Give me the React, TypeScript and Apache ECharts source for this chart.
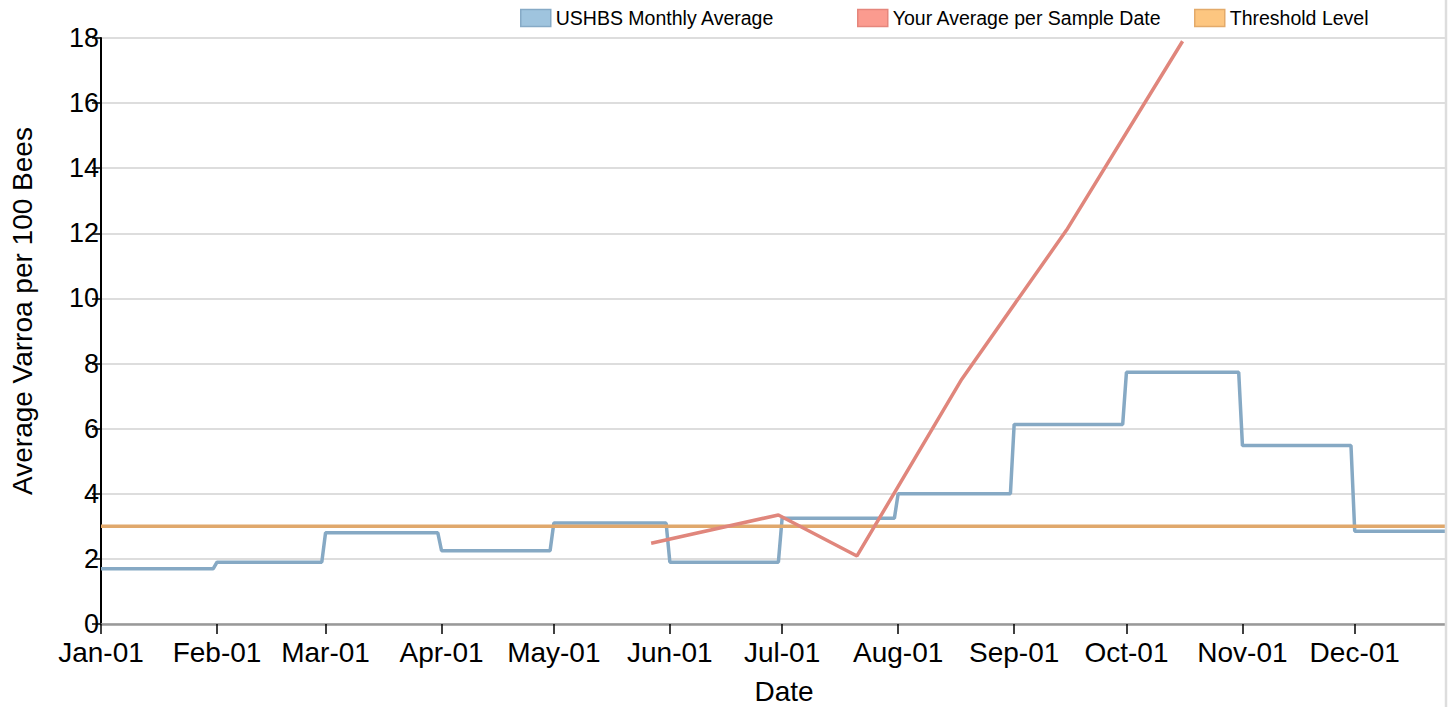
import React, { useEffect, useRef } from "react";
import * as echarts from "echarts";

const YEAR = 2020;
const monthNames = ["Jan", "Feb", "Mar", "Apr", "May", "Jun", "Jul", "Aug", "Sep", "Oct", "Nov", "Dec"];
// USHBS monthly average (Jan..Dec)
const monthlyAverage = [1.7, 1.9, 2.8, 2.25, 3.1, 1.9, 3.25, 4.0, 6.13, 7.73, 5.48, 2.85];
// Your average per sample date
const sampleDates = ["2020-05-27", "2020-06-30", "2020-07-21", "2020-08-18", "2020-09-15", "2020-10-16"];
const sampleValues = [2.48, 3.35, 2.09, 7.52, 12.1, 17.9];
const thresholdLevel = 3;
const yMin = 0;
const yMax = 18;
const yInterval = 2;

const FONT = "'Liberation Sans', Arial, Helvetica, sans-serif";

function ts(s: string) {
  const [y, m, d] = s.split("-").map(Number);
  return new Date(y, m - 1, d).getTime();
}

export default function App() {
  const ref = useRef<HTMLDivElement>(null);
  useEffect(() => {
    if (!ref.current) return;
    const chart = echarts.init(ref.current, undefined, { renderer: "svg" });

    const xMin = new Date(YEAR, 0, 1).getTime();
    const xMax = new Date(YEAR, 11, 31).getTime();
    const monthStarts = monthNames.map((_, i) => new Date(YEAR, i, 1).getTime());

    const bluePts: [number, number][] = [];
    monthlyAverage.forEach((v, i) => {
      bluePts.push([new Date(YEAR, i, 1).getTime(), v]);
      bluePts.push([new Date(YEAR, i + 1, 0).getTime(), v]);
    });
    const redPts = sampleDates.map((d, i) => [ts(d), sampleValues[i]]);
    const thrPts = [
      [xMin, thresholdLevel],
      [xMax, thresholdLevel],
    ];

    const fmt = (val: number) => {
      const d = new Date(val);
      const dd = String(d.getDate()).padStart(2, "0");
      return `${monthNames[d.getMonth()]}-${dd}`;
    };

    const legendBase = {
      top: 8,
      padding: 0,
      icon: "rect",
      itemWidth: 30,
      itemHeight: 17,
      itemGap: 8,
      selectedMode: false,
      textStyle: { fontFamily: FONT, fontSize: 19.5, color: "#000" },
    };

    chart.setOption({
      animation: false,
      backgroundColor: "#fff",
      grid: { left: 101, right: -13, top: 38, bottom: 83, containLabel: false, outerBoundsMode: "none" },
      legend: [
        {
          ...legendBase,
          left: 520,
          data: [{ name: "USHBS Monthly Average", itemStyle: { color: "#9fc4de", borderColor: "#86aac6", borderWidth: 1.5 } }],
        },
        {
          ...legendBase,
          left: 857,
          data: [{ name: "Your Average per Sample Date", itemStyle: { color: "#fb9b8f", borderColor: "#e5867c", borderWidth: 1.5 } }],
        },
        {
          ...legendBase,
          left: 1194,
          data: [{ name: "Threshold Level", itemStyle: { color: "#fdc680", borderColor: "#e3aa6a", borderWidth: 1.5 } }],
        },
      ],
      xAxis: {
        type: "value",
        min: xMin,
        max: xMax,
        name: "Date",
        nameLocation: "middle",
        nameGap: 53,
        nameTextStyle: { fontFamily: FONT, fontSize: 28, color: "#000" },
        axisLine: { show: true, onZero: false, lineStyle: { color: "#999", width: 2.5 } },
        axisTick: { show: true, length: 10, customValues: monthStarts, lineStyle: { color: "#000", width: 1.5 } },
        axisLabel: {
          customValues: monthStarts,
          formatter: fmt,
          fontFamily: FONT,
          fontSize: 28,
          lineHeight: 28,
          color: "#000",
          margin: 14,
          hideOverlap: false,
          showMinLabel: true,
          showMaxLabel: true,
        },
        splitLine: { show: false },
      },
      yAxis: {
        type: "value",
        min: yMin,
        max: yMax,
        interval: yInterval,
        axisLine: { show: true, lineStyle: { color: "#000", width: 2 } },
        axisTick: { show: true, length: 9, lineStyle: { color: "#000", width: 1.5 } },
        axisLabel: { fontFamily: FONT, fontSize: 27, lineHeight: 22, color: "#000", margin: 2 },
        splitLine: { show: true, lineStyle: { color: "#dddddd", width: 2 } },
      },
      series: [
        {
          name: "Threshold Level",
          type: "line",
          data: thrPts,
          showSymbol: false,
          symbol: "none",
          lineStyle: { color: "#e0a86c", width: 3.5 },
          itemStyle: { color: "#e0a86c" },
          z: 3,
        },
        {
          name: "USHBS Monthly Average",
          type: "line",
          data: bluePts,
          showSymbol: false,
          symbol: "none",
          lineStyle: { color: "#86a9c4", width: 3.5 },
          itemStyle: { color: "#86a9c4" },
          z: 2,
        },
        {
          name: "Your Average per Sample Date",
          type: "line",
          data: redPts,
          showSymbol: false,
          symbol: "none",
          lineStyle: { color: "#e0867c", width: 3.5 },
          itemStyle: { color: "#e0867c" },
          z: 4,
        },
      ],
      graphic: [
        {
          type: "text",
          x: 22,
          y: 311,
          rotation: Math.PI / 2,
          style: {
            text: "Average Varroa per 100 Bees",
            fontFamily: FONT,
            fontSize: 28,
            fill: "#000",
            align: "center",
            verticalAlign: "middle",
          },
          z: 10,
        },
        {
          type: "rect",
          shape: { x: 1447, y: 0, width: 20, height: 707 },
          style: { fill: "#fff" },
          z: 10,
        },
        {
          type: "line",
          shape: { x1: 1446, y1: 0, x2: 1446, y2: 707 },
          style: { stroke: "#dddddd", lineWidth: 2.5 },
          z: 11,
        },
      ],
    });

    return () => chart.dispose();
  }, []);

  return <div ref={ref} style={{ position: "fixed", left: 0, top: 0, width: 1454, height: 707 }} />;
}
